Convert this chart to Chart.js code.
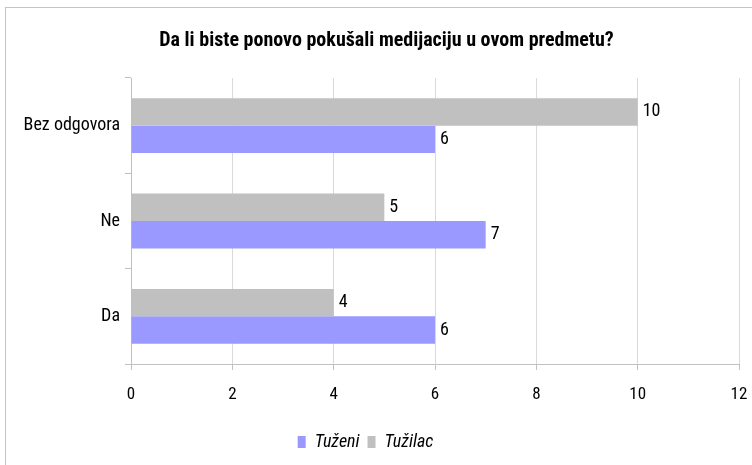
<!DOCTYPE html>
<html>
<head>
<meta charset="utf-8">
<script src="https://cdn.jsdelivr.net/npm/chart.js@4"></script>
<style>
  body { margin: 0; background: #fff; }
  #wrap { position: relative; width: 752px; height: 465px; overflow: hidden; }
  #frame { position: absolute; left: 5px; top: 7px; width: 800px; height: 500px; border: 1px solid #c4c4c4; }
  canvas { position: absolute; left: 0; top: 0; }
</style>
</head>
<body>
<div id="wrap">
  <div id="frame"></div>
  <canvas id="myChart" width="752" height="465"></canvas>
</div>
<script>
const categories = ['Bez odgovora', 'Ne', 'Da'];
const tuzilac = [10, 5, 4];
const tuzeni = [6, 7, 6];
const xTicks = [0, 2, 4, 6, 8, 10, 12];

const cond = "'Roboto Condensed', 'Open Sans Condensed', sans-serif";

// value labels at the end of each bar
const valueLabels = {
  id: 'valueLabels',
  afterDatasetsDraw(chart) {
    const ctx = chart.ctx;
    ctx.save();
    ctx.font = "18px " + cond;
    ctx.fillStyle = '#000';
    ctx.textBaseline = 'middle';
    chart.data.datasets.forEach((ds, i) => {
      chart.getDatasetMeta(i).data.forEach((bar, j) => {
        ctx.fillText(ds.data[j], bar.x + 5, bar.y);
      });
    });
    ctx.restore();
  }
};

// title and legend are not centred on the same x in the original
const nudge = {
  id: 'nudge',
  afterLayout(chart) {
    chart.titleBlock.left += 17;
    chart.titleBlock.right += 17;
    chart.legend.left -= 4;
    chart.legend.right -= 4;
  }
};

const ctx = document.getElementById('myChart');
new Chart(ctx, {
  type: 'bar',
  data: {
    labels: categories,
    datasets: [
      { label: 'Tužilac', data: tuzilac, backgroundColor: '#C0C0C0' },
      { label: 'Tuženi', data: tuzeni, backgroundColor: '#9999FF' }
    ]
  },
  options: {
    indexAxis: 'y',
    responsive: false,
    animation: false,
    layout: { padding: { left: 0, right: 13, top: 0, bottom: 4 } },
    datasets: { bar: { categoryPercentage: 0.575, barPercentage: 1.0 } },
    plugins: {
      title: {
        display: true,
        text: 'Da li biste ponovo pokušali medijaciju u ovom predmetu?',
        color: '#000',
        font: { family: cond, size: 20, weight: 'bold' },
        padding: { top: 29, bottom: 25 }
      },
      legend: {
        position: 'bottom',
        reverse: true,
        labels: {
          color: '#000',
          boxWidth: 8,
          boxHeight: 12,
          font: { family: cond, size: 18, style: 'italic' },
          padding: 8
        }
      },
      tooltip: { enabled: false }
    },
    scales: {
      x: {
        min: 0,
        max: 12,
        afterBuildTicks: s => { s.ticks = xTicks.map(v => ({ value: v })); },
        grid: { color: '#d9d9d9', tickLength: 6, tickColor: '#c0c0c0' },
        border: { color: '#c0c0c0' },
        ticks: { color: '#000', font: { family: cond, size: 17 }, padding: 15 },
        afterFit: s => { s.height = 61; s.paddingLeft = 0; s.paddingRight = 0; }
      },
      y: {
        grid: { drawOnChartArea: false, tickLength: 6, color: '#c0c0c0' },
        border: { color: '#c0c0c0' },
        ticks: { color: '#000', font: { family: cond, size: 18 }, padding: 5 },
        afterFit: s => { s.width = 131; }
      }
    }
  },
  plugins: [valueLabels, nudge]
});
</script>
</body>
</html>
